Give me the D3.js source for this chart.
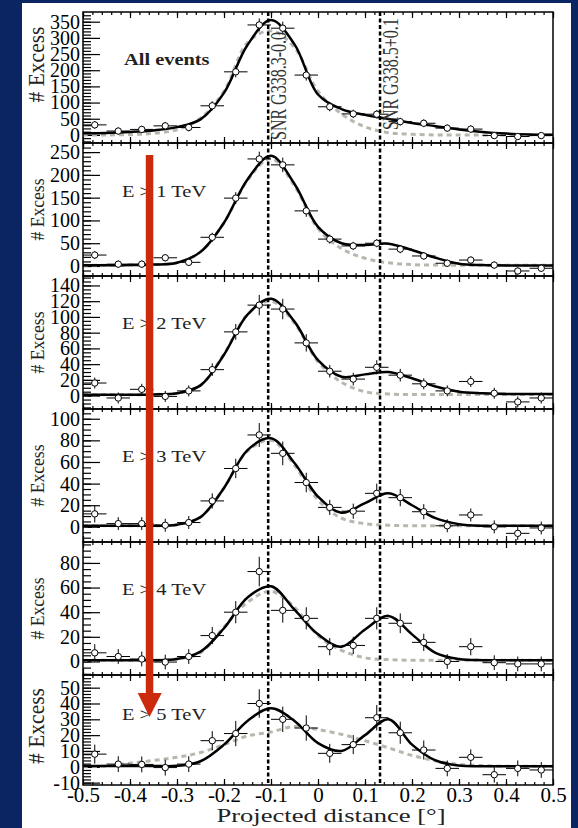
<!DOCTYPE html>
<html>
<head>
<meta charset="utf-8">
<style>
/*	page and text styles	*/
body {
  margin: 0;
  background: #0a2562;
}
svg {
  display: block;
}
text {
  font-family: "Liberation Serif", "Times New Roman", serif;
}
.tick line {
  stroke: #000;
  stroke-width: 1.2px;
}
.frame {
  fill: none;
  stroke: #000;
  stroke-width: 1.5px;
}
</style>
</head>
<body>
<svg id="chart" width="578" height="828"></svg>

<script src="https://cdn.jsdelivr.net/npm/d3@7"></script>
<script>

//	data
var panelLabels = ["All events", "E > 1 TeV", "E > 2 TeV", "E > 3 TeV", "E > 4 TeV", "E > 5 TeV"];

var binCenters = [-0.475, -0.425, -0.375, -0.325, -0.275, -0.225, -0.175, -0.125, -0.075, -0.025,
                  0.025, 0.075, 0.125, 0.175, 0.225, 0.275, 0.325, 0.375, 0.425, 0.475];

var excess = [
  [31, 12, 17, 28, 23, 90, 195, 340, 330, 185, 87, 65, 64, 41, 36, 21, 18, -2, -5, -2],
  [24, 4, 4, 18, 8, 63, 149, 235, 222, 121, 59, 44, 50, 37, 22, 6, 13, 2, -11, -5],
  [16, -3, 8, -1, 6, 33, 81, 115, 110, 67, 31, 21, 36, 26, 15, 6, 18, 3, -8, -3],
  [12, 3, 3, 1.5, 4, 24, 54, 85, 68, 41, 18, 14.5, 31, 27, 14, 1, 11, 0, -6, -1],
  [7, 4, 2, -0.5, 4, 21, 40, 73, 41.5, 35, 12, 13, 35, 31, 15.5, 0, 12, -1, -2, -2],
  [8, 1.7, 1.5, -0.5, 1.7, 16.5, 21, 40, 30, 24.5, 8.5, 14, 31, 21.5, 10.6, -1, 6, -5, -1, -2]
];

var excessErr = [
  [12, 11, 11, 12, 12, 14, 17, 20, 20, 17, 14, 13, 13, 12, 12, 11, 11, 10, 10, 10],
  [9, 8, 8, 8, 8, 10, 13, 16, 16, 13, 10, 9, 9, 9, 8, 8, 8, 8, 8, 8],
  [7, 7, 7, 7, 7, 8, 10, 13, 13, 11, 8, 8, 9, 8, 7, 7, 7, 7, 7, 7],
  [8, 6, 6, 6, 6, 7, 9, 11, 11, 9, 7, 7, 9, 8, 7, 6, 6, 6, 6, 6],
  [7, 6, 6, 6, 6, 7, 9, 12, 10, 9, 7, 7, 9, 8, 7, 6, 7, 6, 6, 6],
  [6, 5, 5, 5, 5, 6, 8, 9, 8, 8, 6, 6, 8, 7, 6, 5, 5, 5, 5, 5]
];

var fitX = [-0.5, -0.45, -0.4, -0.35, -0.3, -0.25, -0.2, -0.15, -0.1, -0.05, 0,
            0.05, 0.1, 0.15, 0.2, 0.25, 0.3, 0.35, 0.4, 0.45, 0.5];

//	solid black fit (both sources)
var fitTotal = [
  [5, 6, 9, 14, 24, 48, 130, 278, 355, 280, 125, 80, 62, 49, 37, 27, 17, 9, 4, 1.5, 0.5],
  [1.5, 1.5, 2, 3, 7, 31, 95, 190, 242, 180, 86, 50, 46, 49, 35, 18, 5, 2, 1, 1, 1],
  [1, 1, 1, 1.5, 3, 13, 52, 103, 123, 94, 45, 24, 27, 30, 22, 11.5, 5, 3, 2, 2, 2],
  [1, 1, 1, 1, 2, 9, 36, 71, 82, 59, 28, 13, 22, 31, 20, 8, 2.5, 1, 1, 1, 1],
  [1, 1, 1, 1, 2, 8, 27, 52, 61, 42, 22, 12, 26, 37, 22, 7, 2, 1, 1, 1, 1],
  [0.5, 0.5, 0.5, 0.5, 0.6, 3.5, 14, 29, 37, 29, 15, 10, 20, 30, 14, 4, 0.8, 0.4, 0.3, 0.3, 0.3]
];

//	grey dashed fit (single source)
var fitSingle = [
  [0, 0, 1, 5, 16, 52, 135, 285, 322, 270, 135, 65, 25, 7, 2, 0, 0, 0, 0, 0, 0],
  [1.5, 1.5, 2, 3, 7, 31, 95, 188, 236, 176, 82, 38, 17, 7, 3, 2, 1.5, 1.5, 1.5, 1.5, 1.5],
  [1, 1, 1, 1.5, 3, 13, 53, 103, 120, 92, 43, 17, 5, 2, 1.5, 1.5, 1.5, 1.5, 1.5, 1.5, 1.5],
  [1, 1, 1, 1, 2, 9, 36, 70, 80, 57, 25, 8, 3, 1.5, 1, 1, 1, 1, 1, 1, 1],
  [1, 1, 1, 1, 2, 7, 28, 48, 57, 44, 21, 9, 3, 1.5, 1, 1, 1, 1, 1, 1, 1],
  [0, 0.5, 2.3, 4, 6, 9, 14, 19.5, 22, 25.5, 23.5, 20.5, 16.5, 12, 7.2, 3.8, 1.5, 0.8, 0.3, 0.3, 0.3]
];

var yDomains = [[-25, 380], [-22, 270], [-17, 152], [-14, 109], [-11, 97], [-11.5, 58]];
var yMajorStep = [50, 50, 20, 20, 20, 10];
var yMinorStep = [10, 10, 5, 5, 5, 2];

var xTickValues = [-0.5, -0.4, -0.3, -0.2, -0.1, 0, 0.1, 0.2, 0.3, 0.4, 0.5];

var snrPos = [-0.106, 0.132];
var snrNames = ["SNR G338.3-0.0", "SNR G338.5+0.1"];

//	layout
var panelTop = [12, 143, 276, 409, 542, 675],
    panelBot = [143, 276, 409, 542, 675, 785],
    titleShift = [-13, 0, 0, 0, 0, -4],
    titleSize = [21.5, 17.6, 17.6, 17.6, 17.6, 21.5],
    labelDrop = [53, 54, 53, 53, 53, 45];

var svg = d3.select("#chart");
var defs = svg.append("defs");

svg.append("rect")
    .attr("x", 22).attr("y", 3)
    .attr("width", 549).attr("height", 825)
    .attr("fill", "#fff");

var x = d3.scaleLinear().domain([-0.5, 0.5]).range([83, 553]);

function num(d) {
  return String(Math.round(d));
}
function xnum(d) {
  if (Math.abs(d) < 1e-9) return "0";
  return d3.format(".1f")(d).replace("\u2212", "-");
}

panelLabels.forEach(function(lab, i) {
  var top = panelTop[i], bot = panelBot[i];
  var y = d3.scaleLinear().domain(yDomains[i]).range([bot, top]);
  var g = svg.append("g");

  defs.append("clipPath").attr("id", "clip" + i)
    .append("rect")
      .attr("x", 83).attr("y", top)
      .attr("width", 470).attr("height", bot - top);

  //	y ticks
  var lo = yDomains[i][0], hi = yDomains[i][1];
  var major = d3.range(Math.ceil(lo / yMajorStep[i]) * yMajorStep[i], hi, yMajorStep[i]);
  var minor = d3.range(Math.ceil(lo / yMinorStep[i]) * yMinorStep[i], hi, yMinorStep[i]);

  var ym = g.append("g").attr("transform", "translate(83,0)")
    .call(d3.axisLeft(y).tickValues(minor).tickSizeInner(-8).tickSizeOuter(0).tickFormat(""));
  ym.select(".domain").remove();

  var yM = g.append("g").attr("transform", "translate(83,0)")
    .call(d3.axisLeft(y).tickValues(major).tickSizeInner(-17).tickSizeOuter(0)
      .tickPadding(3).tickFormat(num));
  yM.select(".domain").remove();
  yM.selectAll("text").attr("font-size", 20).attr("fill", "#000")
    .style("font-family", '"Liberation Serif", serif');

  //	x ticks, bottom and top
  [bot, top].forEach(function(yy, k) {
    var mk = k === 0 ? d3.axisBottom : d3.axisTop;
    var a1 = g.append("g").attr("transform", "translate(0," + yy + ")")
      .call(mk(x).ticks(50).tickSizeInner(-3).tickSizeOuter(0).tickFormat(""));
    a1.select(".domain").remove();
    var a2 = g.append("g").attr("transform", "translate(0," + yy + ")")
      .call(mk(x).tickValues(xTickValues).tickSizeInner(-6).tickSizeOuter(0)
        .tickPadding(2).tickFormat(k === 0 && i === 5 ? xnum : ""));
    a2.select(".domain").remove();
    a2.selectAll("text").attr("font-size", 21).attr("fill", "#000")
      .style("font-family", '"Liberation Serif", serif');
  });

  //	curves
  var line = d3.line()
      .x(function(d, j) { return x(fitX[j]); })
      .y(function(d) { return y(d); })
      .curve(d3.curveCatmullRom.alpha(0.5));

  var plot = g.append("g").attr("clip-path", "url(#clip" + i + ")");

  plot.append("path").datum(fitSingle[i])
      .attr("d", line)
      .attr("fill", "none")
      .attr("stroke", "#b8b7ae")
      .attr("stroke-width", 3)
      .attr("stroke-dasharray", "5,4");

  plot.append("path").datum(fitTotal[i])
      .attr("d", line)
      .attr("fill", "none")
      .attr("stroke", "#000")
      .attr("stroke-width", 2.5);

  //	points with error bars
  var pts = binCenters.map(function(c, j) {
    return { c: c, v: excess[i][j], e: excessErr[i][j] };
  });

  plot.selectAll(".eh").data(pts).join("line")
      .attr("class", "eh")
      .attr("x1", function(d) { return x(d.c - 0.025); })
      .attr("x2", function(d) { return x(d.c + 0.025); })
      .attr("y1", function(d) { return y(d.v); })
      .attr("y2", function(d) { return y(d.v); })
      .attr("stroke", "#000").attr("stroke-width", 1);

  plot.selectAll(".ev").data(pts).join("line")
      .attr("class", "ev")
      .attr("x1", function(d) { return x(d.c); })
      .attr("x2", function(d) { return x(d.c); })
      .attr("y1", function(d) { return y(d.v - d.e); })
      .attr("y2", function(d) { return y(d.v + d.e); })
      .attr("stroke", "#000").attr("stroke-width", 1);

  plot.selectAll(".pt").data(pts).join("circle")
      .attr("class", "pt")
      .attr("cx", function(d) { return x(d.c); })
      .attr("cy", function(d) { return y(d.v); })
      .attr("r", 3.2)
      .attr("fill", "#fff")
      .attr("stroke", "#000").attr("stroke-width", 1);

  //	frame
  g.append("rect").attr("class", "frame")
      .attr("x", 83).attr("y", top)
      .attr("width", 470).attr("height", bot - top);

  //	y title
  g.append("text")
      .attr("transform", "translate(44," + ((top + bot) / 2 + titleShift[i]) + ") rotate(-90) scale(1,1.1)")
      .attr("text-anchor", "middle")
      .attr("font-size", titleSize[i])
      .attr("fill", "#222")
      .text("# Excess");

  //	panel label
  g.append("text")
      .attr("transform", "translate(" + (i === 0 ? 124 : 122) + "," + (top + labelDrop[i]) + ") scale(" + (i === 0 ? 1.2 : 1.28) + ",1)")
      .attr("font-size", i === 0 ? 17 : 16)
      .attr("font-weight", i === 0 ? "bold" : "normal")
      .attr("fill", "#222")
      .text(lab);
});

//	source position lines
var snrBottom = [140, 130];
snrPos.forEach(function(p, k) {
  svg.append("line")
      .attr("x1", x(p)).attr("x2", x(p))
      .attr("y1", panelTop[0]).attr("y2", panelBot[5])
      .attr("stroke", "#000")
      .attr("stroke-width", 2.5)
      .attr("stroke-dasharray", "4,2.5");
  svg.append("text")
      .attr("transform", "translate(" + (x(p) + 18) + "," + snrBottom[k] + ") rotate(-90) scale(1,1.4)")
      .attr("font-size", 16)
      .attr("fill", "#333")
      .text(snrNames[k]);
});

//	x title
svg.append("text")
    .attr("transform", "translate(331,822) scale(1.4,1)")
    .attr("text-anchor", "middle")
    .attr("font-size", 19)
    .attr("fill", "#222")
    .text("Projected distance [\u00b0]");

//	red arrow
svg.append("rect")
    .attr("x", 145.8).attr("y", 155)
    .attr("width", 7.5).attr("height", 540)
    .attr("fill", "#cc2a0c");
svg.append("path")
    .attr("d", "M137.7,693 L161.7,693 L149.5,717 Z")
    .attr("fill", "#cc2a0c");

</script>
</body>
</html>
